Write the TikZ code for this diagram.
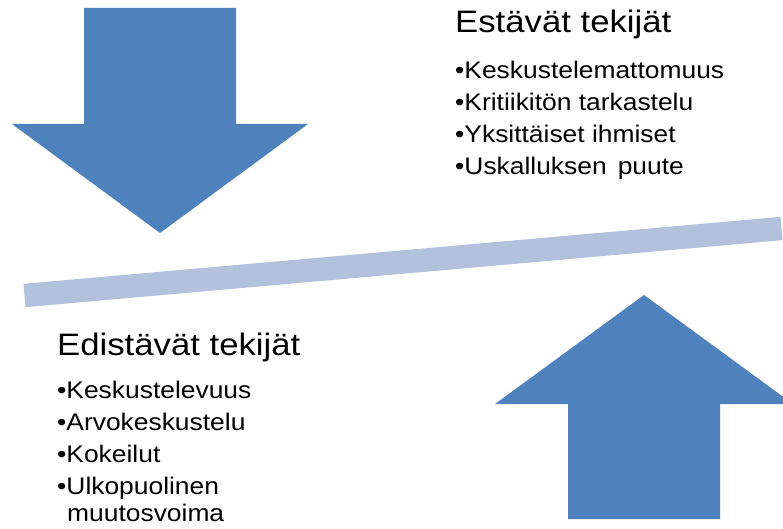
\documentclass[tikz,border=0pt]{standalone}
\usepackage{fontspec}
\setmainfont{Liberation Sans}
\definecolor{arrowblue}{HTML}{4F81BD}
\definecolor{barblue}{HTML}{B3C2DC}
\newcommand{\widet}[1]{\scalebox{1.12}[1]{#1}}
\newcommand{\widei}[1]{\scalebox{1.1}[1]{#1}}
\tikzset{
  title/.style={anchor=base west, inner sep=0pt, font=\fontsize{31}{37}\selectfont},
  item/.style={anchor=base west, inner sep=0pt, font=\fontsize{24}{28}\selectfont},
  bigarrow/.style={fill=arrowblue},
}
\begin{document}
\begin{tikzpicture}[x=1pt,y=-1pt]
\useasboundingbox (0,0) rectangle (783,529);
\clip (0,0) rectangle (783,529);
% down arrow
\fill[bigarrow] (84,8) -- (236,8) -- (236,124) -- (308,124) -- (160,233) -- (12,124) -- (84,124) -- cycle;
% up arrow
\fill[bigarrow] (568,519) -- (720,519) -- (720,404) -- (793,404) -- (644,295) -- (495,404) -- (568,404) -- cycle;
% balance bar
\coordinate (barL) at (24.5,295.5);
\coordinate (barR) at (781.5,228.5);
\draw[barblue, line width=23.4pt, line cap=butt] (barL) -- (barR);
% top text
\node[title] (t1) at (455,33) {\widet{Estävät tekijät}};
\node[item] (t1a) at (455,79) {\widei{•Keskustelemattomuus}};
\node[item] (t1b) at (455,111) {\widei{•Kritiikitön tarkastelu}};
\node[item] (t1c) at (455,143) {\widei{•Yksittäiset ihmiset}};
\node[item] (t1d) at (455,175) {\widei{•Uskalluksen\hspace{0.42em}puute}};
% bottom text
\node[title] (t2) at (57,355) {\widet{Edistävät tekijät}};
\node[item] (t2a) at (57,398) {\widei{•Keskustelevuus}};
\node[item] (t2b) at (57,430) {\widei{•Arvokeskustelu}};
\node[item] (t2c) at (57,462) {\widei{•Kokeilut}};
\node[item] (t2d) at (57,494) {\widei{•Ulkopuolinen}};
\node[item] (t2e) at (67,521) {\widei{muutosvoima}};
\end{tikzpicture}
\end{document}
